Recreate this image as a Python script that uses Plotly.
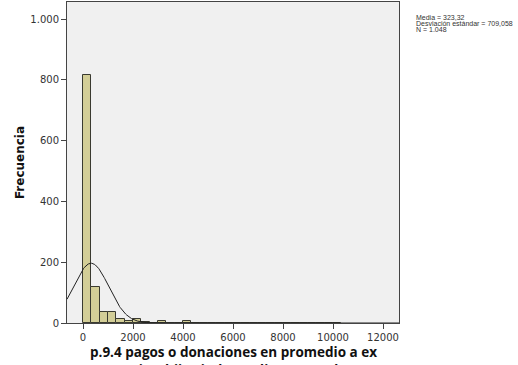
import numpy as np
import plotly.graph_objects as go

# histogram (bins of 333.33 starting at 0)
bin_width = 10000 / 30
bin_counts = [815, 119, 35, 37, 13, 6, 13, 4, 1, 5, 0, 1, 5, 0, 0, 1,
              0, 0, 1, 0, 0, 0, 0, 0, 1, 1, 0, 0, 0, 0, 1]
bin_centers = [bin_width * (i + 0.5) for i in range(len(bin_counts))]

# statistics shown beside the chart
media = 323.32
desv = 709.058
n_total = 1048

y_ticks = [0, 200, 400, 600, 800, 1000]
y_labels = ["0", "200", "400", "600", "800", "1.000"]
x_ticks = [0, 2000, 4000, 6000, 8000, 10000, 12000]
x_labels = ["0", "2000", "4000", "6000", "8000", "10000", "12000"]

# fitted normal curve scaled to counts
xs = np.linspace(-640, 12640, 600)
ys = n_total * bin_width / (desv * np.sqrt(2 * np.pi)) * np.exp(-0.5 * ((xs - media) / desv) ** 2)

fig = go.Figure()
fig.add_trace(go.Bar(x=bin_centers, y=bin_counts, width=bin_width,
                     marker=dict(color="#D3CE97", line=dict(color="#3a3a30", width=1)),
                     showlegend=False))
fig.add_trace(go.Scatter(x=xs, y=ys, mode="lines",
                         line=dict(color="#222222", width=1), showlegend=False))

axis_style = dict(showline=True, linecolor="#444444", linewidth=1, mirror=True,
                  ticks="outside", ticklen=5, tickcolor="#444444", showgrid=False,
                  zeroline=False, automargin=False,
                  tickfont=dict(family="DejaVu Sans", size=10, color="#333333"))

fig.update_layout(
    width=518, height=365,
    margin=dict(l=67, r=119, t=2, b=42),
    paper_bgcolor="white", plot_bgcolor="#F0F0F0",
    bargap=0,
    xaxis=dict(range=[-640, 12640], tickvals=x_ticks, ticktext=x_labels, **axis_style),
    yaxis=dict(range=[0, 1056], tickvals=y_ticks, ticktext=y_labels,
               title=dict(text="<b>Frecuencia</b>", standoff=3,
                          font=dict(family="DejaVu Sans", size=12, color="#111111")),
               **axis_style),
)

# x-axis title (second line clipped by the bottom edge, as in the reference)
fig.add_annotation(text="<b>p.9.4 pagos o donaciones en promedio a ex<br>parejas, hijos independientes, padres</b>",
                   xref="paper", yref="paper", x=0.5, y=-0.056, xanchor="center", yanchor="top",
                   showarrow=False, align="center",
                   font=dict(family="Open Sans", size=13.5, color="#111111"))

stats_lines = ["Media = 323,32", "Desviación estándar = 709,058", "N = 1.048"]
for i, line in enumerate(stats_lines):
    fig.add_annotation(text=line, xref="paper", yref="paper",
                       x=1.045, y=(323 - 17 - 6 * i) / 321, xanchor="left", yanchor="middle",
                       showarrow=False, font=dict(family="Liberation Sans", size=7, color="#333333"))

fig.write_html("out.html", config={"displayModeBar": False},
               post_script="document.body.style.margin='0';")
